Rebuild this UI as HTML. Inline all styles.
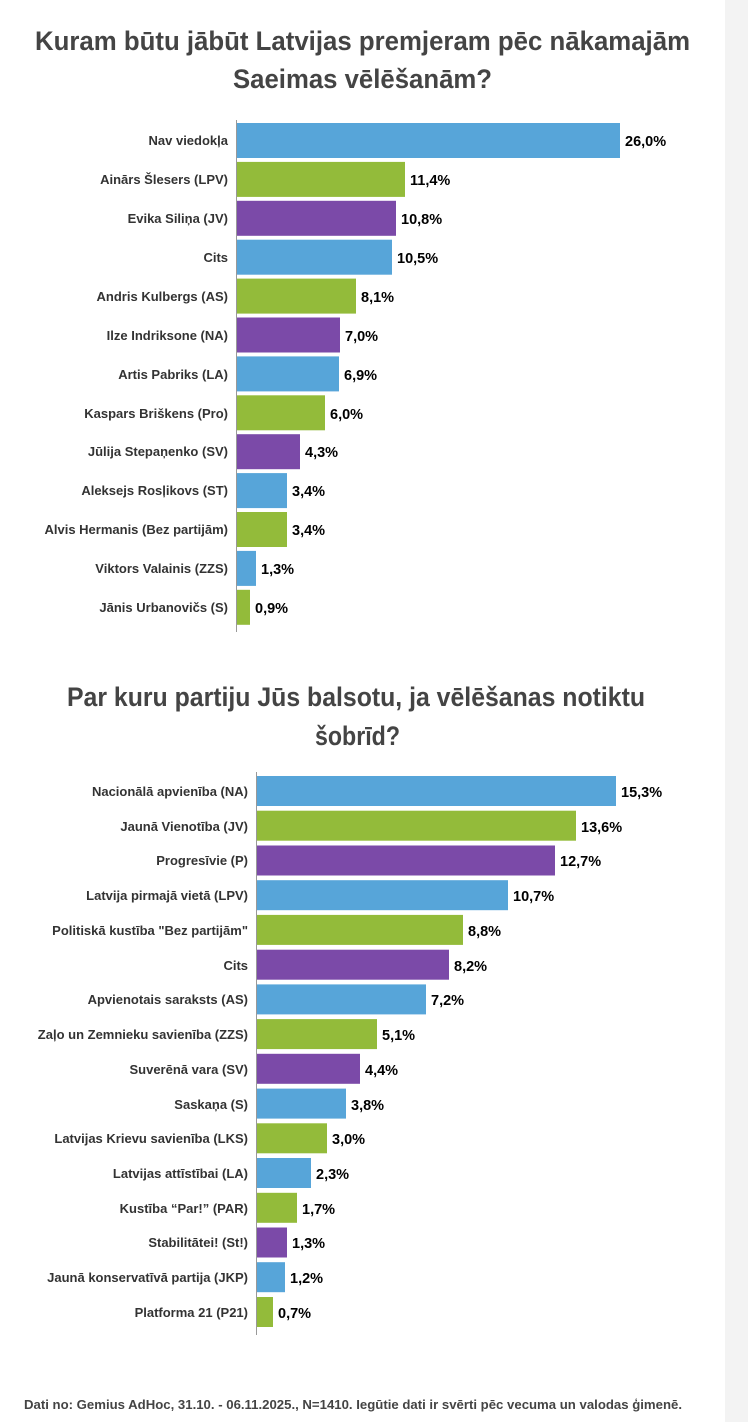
<!DOCTYPE html>
<html><head><meta charset="utf-8"><style>
html,body{margin:0;padding:0;background:#fff;}
svg{display:block;}
text{font-family:"Liberation Sans Narrow","Liberation Sans",sans-serif;font-weight:bold;}
.t{font-size:27px;fill:#444;}
.l{font-size:13px;fill:#333;text-anchor:end;}
.v{font-size:14.5px;fill:#000;}
.b{fill:#57a5d9}.g{fill:#93bb3a}.p{fill:#7b4aa8}
</style></head><body>
<svg width="748" height="1422" viewBox="0 0 748 1422" xmlns="http://www.w3.org/2000/svg">
<rect x="725" y="0" width="23" height="1422" fill="#f3f3f3"/>
<text class="t" x="35" y="50" textLength="655" lengthAdjust="spacingAndGlyphs">Kuram būtu jābūt Latvijas premjeram pēc nākamajām</text>
<text class="t" x="233" y="88" textLength="259" lengthAdjust="spacingAndGlyphs">Saeimas vēlēšanām?</text>
<line x1="236.5" y1="120" x2="236.5" y2="632" stroke="#999" stroke-width="1"/>
<g>
<rect class="b" x="237" y="123" width="383" height="35"/><text class="l" x="228" y="145">Nav viedokļa</text><text class="v" x="625" y="146">26,0%</text>
<rect class="g" x="237" y="161.9" width="168" height="35"/><text class="l" x="228" y="184">Ainārs Šlesers (LPV)</text><text class="v" x="410" y="185">11,4%</text>
<rect class="p" x="237" y="200.8" width="159" height="35"/><text class="l" x="228" y="223">Evika Siliņa (JV)</text><text class="v" x="401" y="224">10,8%</text>
<rect class="b" x="237" y="239.7" width="155" height="35"/><text class="l" x="228" y="262">Cits</text><text class="v" x="397" y="263">10,5%</text>
<rect class="g" x="237" y="278.6" width="119" height="35"/><text class="l" x="228" y="301">Andris Kulbergs (AS)</text><text class="v" x="361" y="302">8,1%</text>
<rect class="p" x="237" y="317.5" width="103" height="35"/><text class="l" x="228" y="340">Ilze Indriksone (NA)</text><text class="v" x="345" y="341">7,0%</text>
<rect class="b" x="237" y="356.4" width="102" height="35"/><text class="l" x="228" y="379">Artis Pabriks (LA)</text><text class="v" x="344" y="380">6,9%</text>
<rect class="g" x="237" y="395.3" width="88" height="35"/><text class="l" x="228" y="418">Kaspars Briškens (Pro)</text><text class="v" x="330" y="419">6,0%</text>
<rect class="p" x="237" y="434.2" width="63" height="35"/><text class="l" x="228" y="456">Jūlija Stepaņenko (SV)</text><text class="v" x="305" y="457">4,3%</text>
<rect class="b" x="237" y="473.1" width="50" height="35"/><text class="l" x="228" y="495">Aleksejs Rosļikovs (ST)</text><text class="v" x="292" y="496">3,4%</text>
<rect class="g" x="237" y="512" width="50" height="35"/><text class="l" x="228" y="534">Alvis Hermanis (Bez partijām)</text><text class="v" x="292" y="535">3,4%</text>
<rect class="b" x="237" y="550.9" width="19" height="35"/><text class="l" x="228" y="573">Viktors Valainis (ZZS)</text><text class="v" x="261" y="574">1,3%</text>
<rect class="g" x="237" y="589.8" width="13" height="35"/><text class="l" x="228" y="612">Jānis Urbanovičs (S)</text><text class="v" x="255" y="613">0,9%</text>
</g>
<text class="t" x="67" y="706" textLength="578" lengthAdjust="spacingAndGlyphs">Par kuru partiju Jūs balsotu, ja vēlēšanas notiktu</text>
<text class="t" x="315" y="745" textLength="85" lengthAdjust="spacingAndGlyphs">šobrīd?</text>
<line x1="256.5" y1="772" x2="256.5" y2="1335" stroke="#999" stroke-width="1"/>
<g>
<rect class="b" x="257" y="776" width="359" height="30"/><text class="l" x="248" y="796">Nacionālā apvienība (NA)</text><text class="v" x="621" y="797">15,3%</text>
<rect class="g" x="257" y="810.7" width="319" height="30"/><text class="l" x="248" y="831">Jaunā Vienotība (JV)</text><text class="v" x="581" y="832">13,6%</text>
<rect class="p" x="257" y="845.5" width="298" height="30"/><text class="l" x="248" y="865">Progresīvie (P)</text><text class="v" x="560" y="866">12,7%</text>
<rect class="b" x="257" y="880.2" width="251" height="30"/><text class="l" x="248" y="900">Latvija pirmajā vietā (LPV)</text><text class="v" x="513" y="901">10,7%</text>
<rect class="g" x="257" y="914.9" width="206" height="30"/><text class="l" x="248" y="935">Politiskā kustība "Bez partijām"</text><text class="v" x="468" y="936">8,8%</text>
<rect class="p" x="257" y="949.7" width="192" height="30"/><text class="l" x="248" y="970">Cits</text><text class="v" x="454" y="971">8,2%</text>
<rect class="b" x="257" y="984.4" width="169" height="30"/><text class="l" x="248" y="1004">Apvienotais saraksts (AS)</text><text class="v" x="431" y="1005">7,2%</text>
<rect class="g" x="257" y="1019.1" width="120" height="30"/><text class="l" x="248" y="1039">Zaļo un Zemnieku savienība (ZZS)</text><text class="v" x="382" y="1040">5,1%</text>
<rect class="p" x="257" y="1053.8" width="103" height="30"/><text class="l" x="248" y="1074">Suverēnā vara (SV)</text><text class="v" x="365" y="1075">4,4%</text>
<rect class="b" x="257" y="1088.6" width="89" height="30"/><text class="l" x="248" y="1109">Saskaņa (S)</text><text class="v" x="351" y="1110">3,8%</text>
<rect class="g" x="257" y="1123.3" width="70" height="30"/><text class="l" x="248" y="1143">Latvijas Krievu savienība (LKS)</text><text class="v" x="332" y="1144">3,0%</text>
<rect class="b" x="257" y="1158" width="54" height="30"/><text class="l" x="248" y="1178">Latvijas attīstībai (LA)</text><text class="v" x="316" y="1179">2,3%</text>
<rect class="g" x="257" y="1192.8" width="40" height="30"/><text class="l" x="248" y="1213">Kustība “Par!” (PAR)</text><text class="v" x="302" y="1214">1,7%</text>
<rect class="p" x="257" y="1227.5" width="30" height="30"/><text class="l" x="248" y="1247">Stabilitātei! (St!)</text><text class="v" x="292" y="1248">1,3%</text>
<rect class="b" x="257" y="1262.2" width="28" height="30"/><text class="l" x="248" y="1282">Jaunā konservatīvā partija (JKP)</text><text class="v" x="290" y="1283">1,2%</text>
<rect class="g" x="257" y="1297" width="16" height="30"/><text class="l" x="248" y="1317">Platforma 21 (P21)</text><text class="v" x="278" y="1318">0,7%</text>
</g>
<text x="24" y="1409" style="font-size:12.5px;fill:#444" textLength="658" lengthAdjust="spacingAndGlyphs">Dati no: Gemius AdHoc, 31.10. - 06.11.2025., N=1410. Iegūtie dati ir svērti pēc vecuma un valodas ģimenē.</text>
</svg>
</body></html>
